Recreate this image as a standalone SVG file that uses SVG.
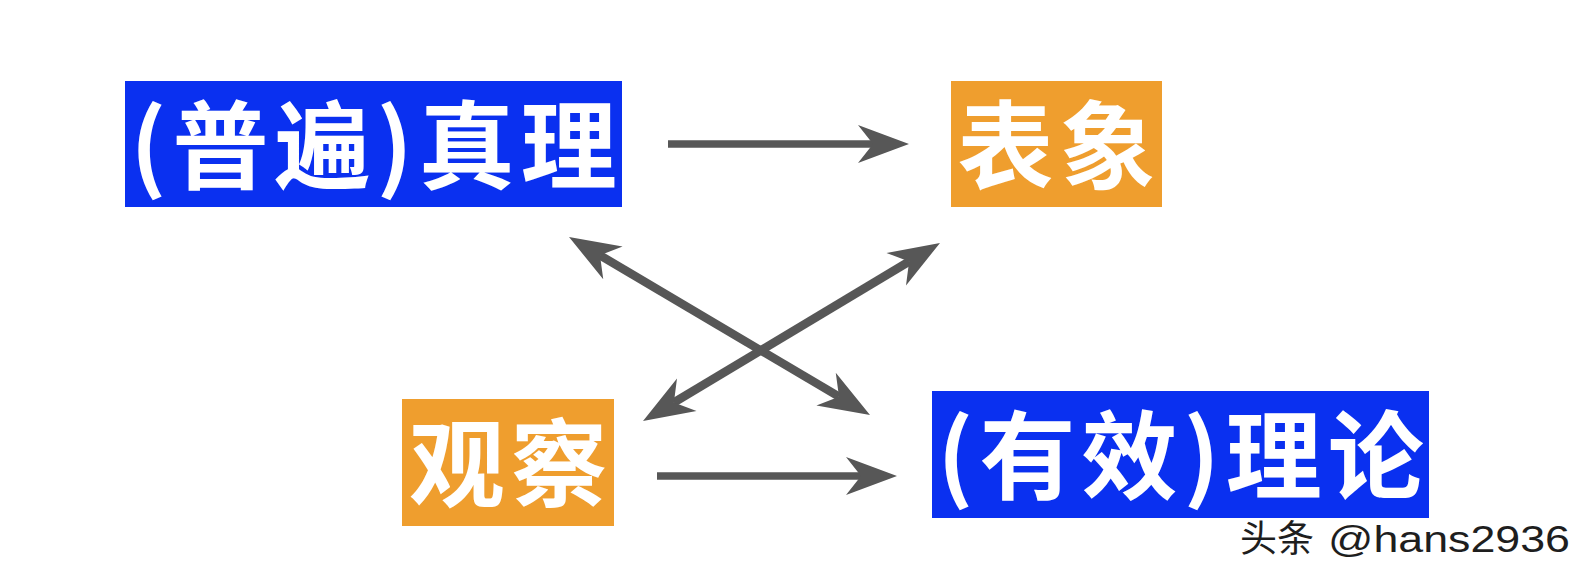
<svg xmlns="http://www.w3.org/2000/svg" width="1591" height="580" viewBox="0 0 1591 580">
  <style>
    .blue { fill: #0a30f0; }
    .orange { fill: #ef9e2e; }
    .label { fill: #ffffff; font-family: "Noto Sans CJK SC", "Noto Sans CJK TC", sans-serif; font-weight: 700; font-size: 96px; letter-spacing: 6px; text-anchor: middle; }
    .conn { stroke: #575757; stroke-width: 7.5; fill: none; marker-end: url(#arrow); }
    .both { marker-start: url(#arrow); stroke-width: 8.5; }
    .wm { font-family: "Liberation Sans", "Noto Sans CJK SC", sans-serif; fill: #1e1e1e; font-size: 37px; }
  </style>
  <defs>
    <marker id="arrow" markerUnits="userSpaceOnUse" markerWidth="60" markerHeight="40" refX="0" refY="0" orient="auto-start-reverse" overflow="visible">
      <path d="M36,0 L-15,-19 L0,0 L-15,19 Z" fill="#575757"/>
    </marker>
  </defs>
  <rect width="1591" height="580" fill="#ffffff"/>

  <g id="node-truth">
    <rect class="blue" x="125" y="81" width="497" height="126"/>
    <text class="label" x="376.5" y="181">(普遍)真理</text>
  </g>
  <g id="node-appearance">
    <rect class="orange" x="951" y="81" width="211" height="126"/>
    <text class="label" x="1059.5" y="181">表象</text>
  </g>
  <g id="node-observation">
    <rect class="orange" x="402" y="399" width="212" height="127"/>
    <text class="label" x="511" y="499">观察</text>
  </g>
  <g id="node-theory">
    <rect class="blue" x="932" y="391" width="497" height="127"/>
    <text class="label" x="1183.5" y="491">(有效)理论</text>
  </g>

  <g id="connectors">
    <line class="conn" x1="668" y1="144" x2="873" y2="144"/>
    <line class="conn" x1="657" y1="476" x2="861" y2="476"/>
    <line class="conn both" x1="600" y1="255.3" x2="839" y2="396.7"/>
    <line class="conn both" x1="909.1" y1="261.5" x2="673.9" y2="402.5"/>
  </g>

  <g id="watermark">
    <text class="wm" x="1240" y="552">头条</text>
    <text class="wm" x="1328" y="552" textLength="242" lengthAdjust="spacingAndGlyphs">@hans2936</text>
  </g>
</svg>
